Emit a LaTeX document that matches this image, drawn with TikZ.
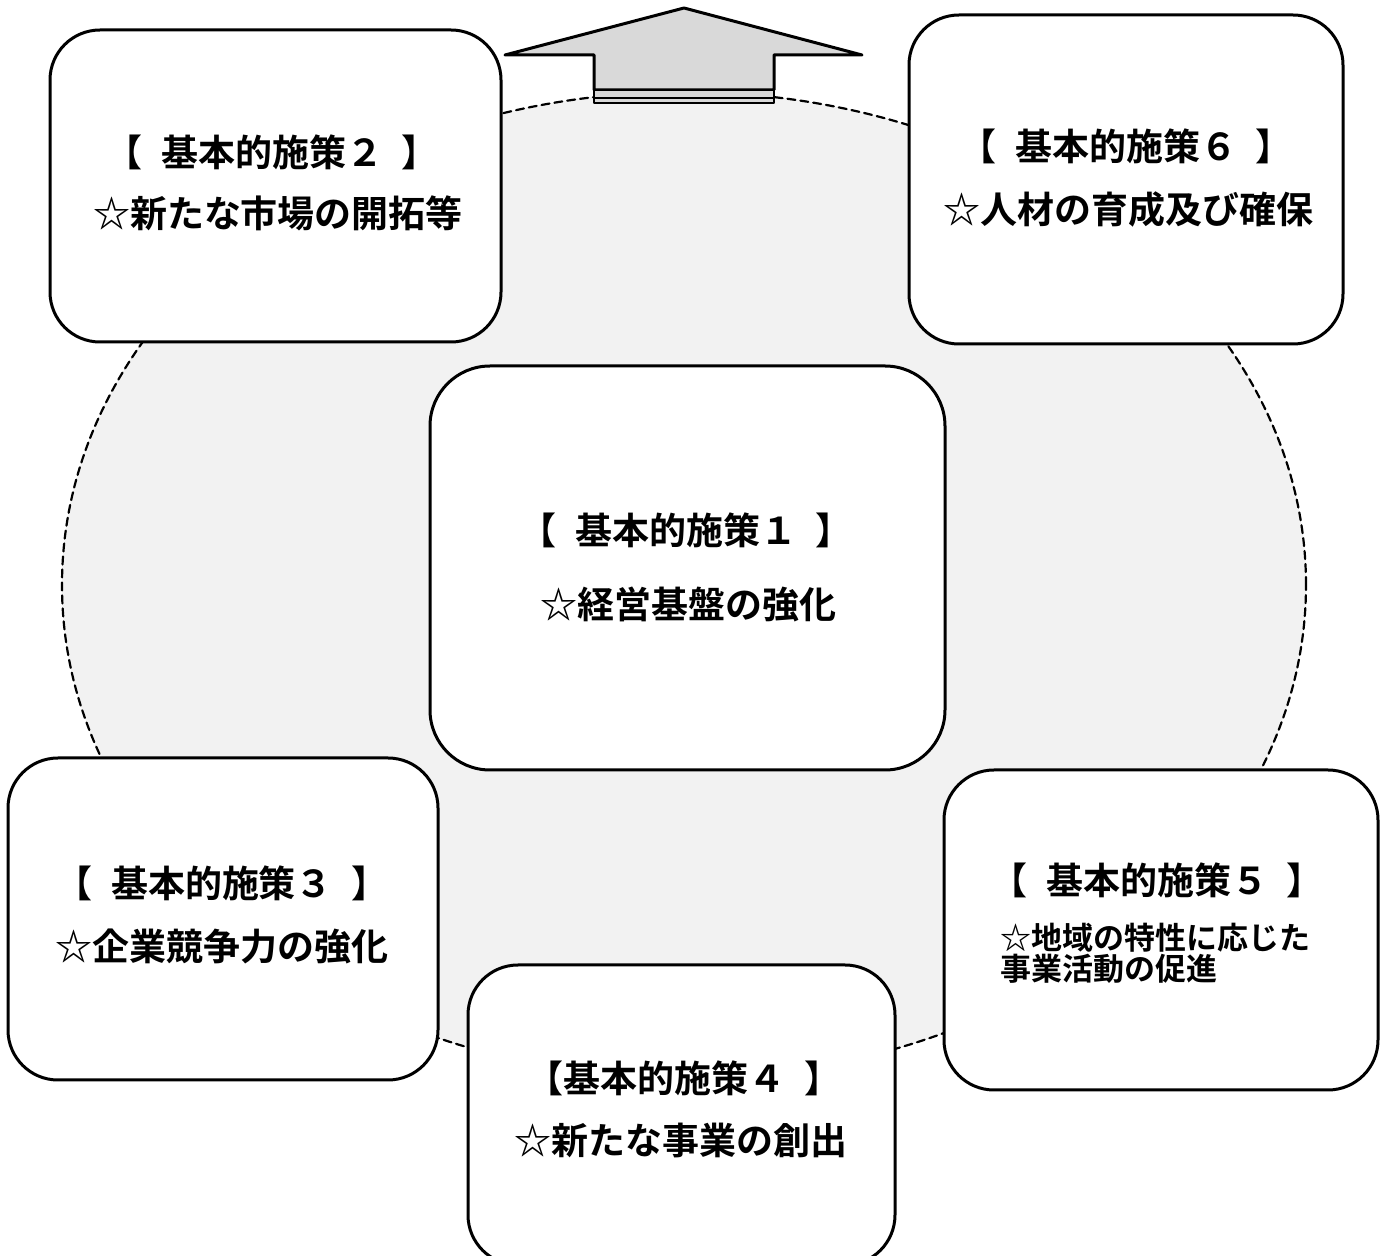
\documentclass[tikz,border=0pt]{standalone}
\usepackage{fontspec}
\newfontfamily\jpfont{Noto Sans CJK JP}[BoldFont={Noto Sans CJK JP Bold}]
\definecolor{ringgray}{HTML}{F2F2F2}
\definecolor{arrowgray}{HTML}{D9D9D9}

\begin{document}
\begin{tikzpicture}[line cap=round,line join=round,x=0.5pt,y=-0.5pt,
    policy/.style={draw,line width=1.5pt,fill=white,rounded corners=25pt,inner sep=0pt},
    caption/.style={font=\jpfont\bfseries\fontsize{18.5}{22}\selectfont,inner sep=0pt},
    smallcaption/.style={font=\jpfont\bfseries\fontsize{15.5}{14.5}\selectfont,inner sep=0pt,align=left}]
      \useasboundingbox (0,0) rectangle (1389,1256);
      \clip (0,0) rectangle (1389,1256);

      % background ring
      \draw[fill=ringgray,line width=1.1pt,dash pattern=on 4pt off 2.5pt] (684,585) ellipse [x radius=311pt,y radius=246.5pt];

      % arrow on top
      \draw[fill=arrowgray,line width=1.5pt] (684,8) -- (862,55) -- (774,55) -- (774,90) -- (594,90) -- (594,55) -- (505,55) -- cycle;
      \draw[fill=arrowgray,line width=1.4pt] (594,90) rectangle (774,103);
      \draw[line width=1.1pt] (594,98) -- (774,98);

      % boxes
      \node[policy,minimum width=225.5pt,minimum height=156pt] (box2) at (275.5,186) {};
      \node[policy,minimum width=217pt,minimum height=164.5pt] (box6) at (1126,179.5) {};
      \node[policy,minimum width=257.5pt,minimum height=202pt,rounded corners=30pt] (box1) at (687.5,568) {};
      \node[policy,minimum width=215pt,minimum height=161pt] (box3) at (223,919) {};
      \node[policy,minimum width=213.5pt,minimum height=150pt] (box4) at (681.5,1115) {};
      \node[policy,minimum width=217pt,minimum height=160pt] (box5) at (1161,930) {};

      % texts
      \node[caption] (box2top) at (272,152) {【\enspace 基本的施策２\enspace 】};
      \node[caption] (box2bot) at (278,213) {☆新たな市場の開拓等};
      \node[caption] (box6top) at (1126,146) {【\enspace 基本的施策６\enspace 】};
      \node[caption] (box6bot) at (1128,210) {☆人材の育成及び確保};
      \node[caption] (box1top) at (686,530) {【\enspace 基本的施策１\enspace 】};
      \node[caption] (box1bot) at (688,604) {☆経営基盤の強化};
      \node[caption] (box3top) at (222,883) {【\enspace 基本的施策３\enspace 】};
      \node[caption] (box3bot) at (222,946) {☆企業競争力の強化};
      \node[caption] (box4top) at (684,1078) {【基本的施策４\enspace 】};
      \node[caption] (box4bot) at (681,1140) {☆新たな事業の創出};
      \node[caption] (box5top) at (1157,880) {【\enspace 基本的施策５\enspace 】};
      \node[smallcaption,anchor=west] (box5bot) at (1000,953) {☆地域の特性に応じた\\事業活動の促進};
    \end{tikzpicture}
\end{document}
